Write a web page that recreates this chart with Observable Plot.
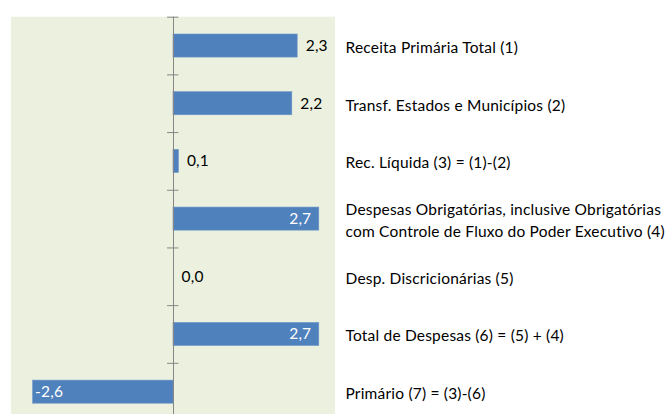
<!DOCTYPE html>
<html>
<head>
<meta charset="utf-8">
<script src="https://cdn.jsdelivr.net/npm/d3@7"></script>
<script src="https://cdn.jsdelivr.net/npm/@observablehq/plot@0.6"></script>
<style>
  html, body { margin: 0; padding: 0; background: #ffffff; }
  #chart svg { display: block; }
</style>
</head>
<body>
<div id="chart"></div>
<script>
const categories = [
  "Receita Primária Total (1)",
  "Transf. Estados e Municípios (2)",
  "Rec. Líquida (3) = (1)-(2)",
  "Despesas Obrigatórias, inclusive Obrigatórias\ncom Controle de Fluxo do Poder Executivo (4)",
  "Desp. Discricionárias (5)",
  "Total de Despesas (6) = (5) + (4)",
  "Primário (7) = (3)-(6)"
];
const values = [2.3, 2.2, 0.1, 2.7, 0.0, 2.7, -2.6];

const data = categories.map((c, i) => ({category: c, value: values[i]}));
const fmt = v => v.toFixed(1).replace(".", ",");

const yRange = [16.7, 420.5];
const step = (yRange[1] - yRange[0]) / categories.length;
const FONT = "Lato, 'Open Sans', sans-serif";
const FS = 15.5;

const chart = Plot.plot({
  width: 669,
  height: 414,
  marginLeft: 0, marginRight: 0, marginTop: 16.7, marginBottom: 0,
  style: {fontFamily: FONT, fontSize: FS + "px", background: "#ffffff", overflow: "hidden", letterSpacing: "0.2px"},
  x: {domain: [-3, 3], range: [11, 335], axis: null},
  y: {domain: categories, range: yRange, paddingInner: 0.6, paddingOuter: 0.3, round: false, axis: null},
  marks: [
    Plot.rect([{}], {x1: () => -3, x2: () => 3, fill: "#EBF1DE"}),
    Plot.barX(data, {x: "value", y: "category", fill: "#4F81BD", stroke: "#6E95C8", strokeWidth: 0.6}),
    Plot.ruleX([0], {stroke: "#868686", strokeWidth: 1}),
    Plot.ruleY(categories, {y: d => d, x1: -0.11, x2: 0.1, dy: -step / 2, stroke: "#868686", strokeWidth: 1}),
    // outside labels (black)
    Plot.text(data.filter(d => d.value >= 0 && d.value < 2.5), {
      x: "value", y: "category", text: d => fmt(d.value),
      textAnchor: "start", dx: 8, fill: "#000000", fontSize: FS
    }),
    // inside-end labels on long positive bars (white)
    Plot.text(data.filter(d => d.value >= 2.5), {
      x: "value", y: "category", text: d => fmt(d.value),
      textAnchor: "end", dx: -8, fill: "#ffffff", fontSize: FS
    }),
    // inside label on negative bar (white)
    Plot.text(data.filter(d => d.value < 0), {
      x: "value", y: "category", text: d => fmt(d.value),
      textAnchor: "start", dx: 2, fill: "#ffffff", fontSize: FS
    }),
    // category labels to the right of the panel
    Plot.text(data, {
      x: () => 3, y: "category", text: "category",
      textAnchor: "start", dx: 10, fill: "#000000", fontSize: FS, lineHeight: 1.4
    })
  ]
});
document.getElementById("chart").appendChild(chart);
</script>
</body>
</html>
